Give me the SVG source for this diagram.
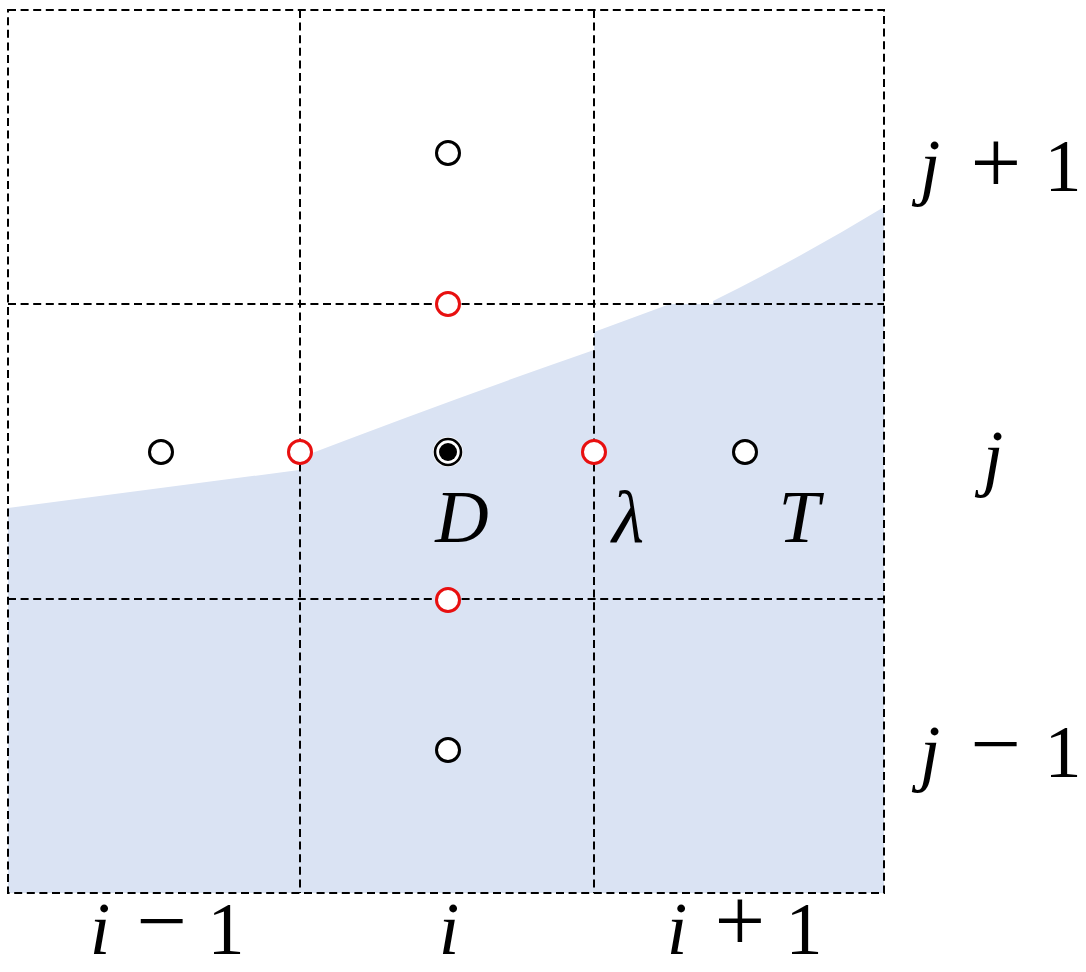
<svg xmlns="http://www.w3.org/2000/svg" width="1086" height="972" viewBox="0 0 1086 972">
<style>
.grid{fill:none;stroke:#000;stroke-width:2;stroke-dasharray:8 4.6}
.pt{fill:#fff;stroke:#000;stroke-width:3}
.red{fill:#fff;stroke:#e81010;stroke-width:3}
.lbl{font-family:"Liberation Serif",serif;font-size:74px;fill:#000;text-anchor:middle}
.op{font-size:90px}
.it{font-style:italic}
</style>
<rect width="1086" height="972" fill="#fff"/>
<g id="region">
<path d="M8,508 L299,470 L299,458 Q450,400 594,350 L594,332 L670,304 L713,304 L713,301 Q800,258 884,207 L884,893 L8,893 Z" fill="#dae3f3"/>
</g>
<g id="connectors">
<rect class="grid" x="8" y="10" width="876" height="883"/>
<line class="grid" x1="300" y1="10" x2="300" y2="893"/>
<line class="grid" x1="594" y1="10" x2="594" y2="893"/>
<line class="grid" x1="8" y1="304" x2="884" y2="304"/>
<line class="grid" x1="8" y1="599" x2="884" y2="599"/>
</g>
<g id="nodes">
<circle id="n_top" class="pt" cx="448" cy="153" r="11.5"/>
<circle id="n_left" class="pt" cx="161" cy="452" r="11.5"/>
<circle id="n_right" class="pt" cx="745" cy="452" r="11.5"/>
<circle id="n_bottom" class="pt" cx="448" cy="750" r="11.5"/>
<circle id="r_top" class="red" cx="448" cy="304" r="11.5"/>
<circle id="r_left" class="red" cx="300" cy="452" r="11.5"/>
<circle id="r_right" class="red" cx="594" cy="452" r="11.5"/>
<circle id="r_bottom" class="red" cx="448" cy="600" r="11.5"/>
<g id="center">
<circle cx="448" cy="452" r="15" fill="#fff"/>
<circle cx="448" cy="452" r="13" fill="none" stroke="#000" stroke-width="2.6"/>
<circle cx="448" cy="452" r="9" fill="#000"/>
</g>
</g>
<g id="labels">
<text class="lbl it" x="462" y="542">D</text>
<text class="lbl it" x="628" y="542">λ</text>
<text class="lbl it" x="799" y="542">T</text>
<text class="lbl it" x="993" y="482">j</text>
<g id="jp1"><text class="lbl it" x="930" y="191">j</text><text class="lbl op" x="996" y="193">+</text><text class="lbl" x="1063" y="191">1</text></g>
<g id="jm1"><text class="lbl it" x="930" y="777">j</text><text class="lbl op" x="996" y="774">−</text><text class="lbl" x="1063" y="777">1</text></g>
<g id="im1"><text class="lbl it" x="100" y="954">i</text><text class="lbl op" x="162" y="951">−</text><text class="lbl" x="226" y="954">1</text></g>
<text class="lbl it" x="449" y="954">i</text>
<g id="ip1"><text class="lbl it" x="677" y="954">i</text><text class="lbl op" x="740" y="951">+</text><text class="lbl" x="804" y="954">1</text></g>
</g>
</svg>
